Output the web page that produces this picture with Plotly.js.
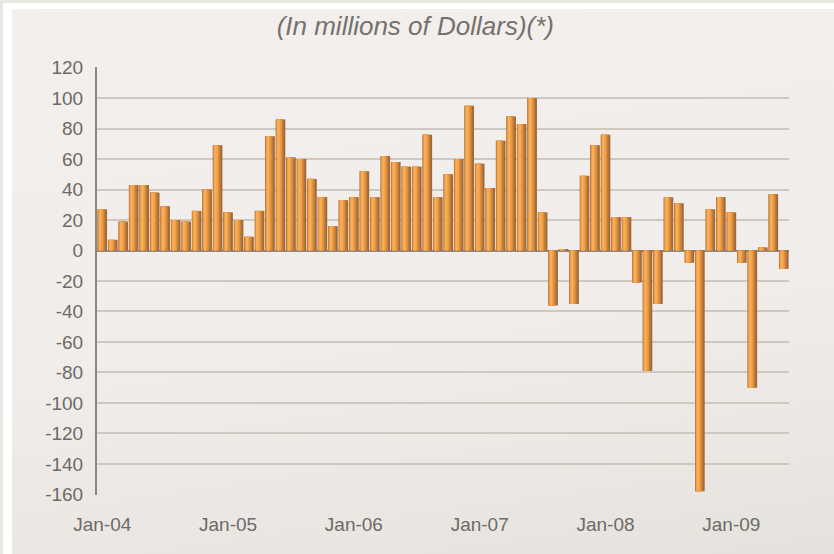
<!DOCTYPE html>
<html>
<head>
<meta charset="utf-8">
<script src="https://cdn.plot.ly/plotly-3.0.1.min.js"></script>
<style>
  html, body { margin:0; padding:0; width:834px; height:554px; overflow:hidden; background:#EAE7E3; }
  #frame { position:absolute; left:3px; top:3px; width:831px; height:551px; background:#FFFFFF; }
  #inner { position:absolute; left:12px; top:9px; width:822px; height:545px;
           background:linear-gradient(172deg, #F2EFEC 0%, #F0EDEA 55%, #EAE7E3 85%, #E5E2DE 100%); }
  #chart { position:absolute; left:0; top:0; width:834px; height:554px; }
</style>
</head>
<body>
<div id="frame"></div>
<div id="inner"></div>
<div id="chart"></div>
<script>
const months = [
  'Jan-04','Feb-04','Mar-04','Apr-04','May-04','Jun-04','Jul-04','Aug-04','Sep-04','Oct-04','Nov-04','Dec-04',
  'Jan-05','Feb-05','Mar-05','Apr-05','May-05','Jun-05','Jul-05','Aug-05','Sep-05','Oct-05','Nov-05','Dec-05',
  'Jan-06','Feb-06','Mar-06','Apr-06','May-06','Jun-06','Jul-06','Aug-06','Sep-06','Oct-06','Nov-06','Dec-06',
  'Jan-07','Feb-07','Mar-07','Apr-07','May-07','Jun-07','Jul-07','Aug-07','Sep-07','Oct-07','Nov-07','Dec-07',
  'Jan-08','Feb-08','Mar-08','Apr-08','May-08','Jun-08','Jul-08','Aug-08','Sep-08','Oct-08','Nov-08','Dec-08',
  'Jan-09','Feb-09','Mar-09','Apr-09','May-09','Jun-09'
];
const values = [
  27, 7, 19, 43, 43, 38, 29, 20, 19, 26, 40, 69,
  25, 20, 9, 26, 75, 86, 61, 60, 47, 35, 16, 33,
  35, 52, 35, 62, 58, 55, 55, 76, 35, 50, 60, 95,
  57, 41, 72, 88, 83, 100, 25, -36, 1, -35, 49, 69,
  76, 22, 22, -21, -79, -35, 35, 31, -8, -158, 27, 35,
  25, -8, -90, 2, 37, -12
];
const xTickLabels = ['Jan-04','Jan-05','Jan-06','Jan-07','Jan-08','Jan-09'];
const yTickValues = [-160,-140,-120,-100,-80,-60,-40,-20,0,20,40,60,80,100,120];
const yTickLabels = ['-160','-140','-120','-100','-80','-60','-40','-20','0','20','40','60','80','100','120'];

// cylinder-like shading made of overlaid layers of the same bars
const layers = [
  {offset:-0.46, width:0.92, color:'#A06937'},
  {offset:-0.43, width:0.72, color:'#C27D3B'},
  {offset:-0.40, width:0.55, color:'#DD9040'},
  {offset:-0.35, width:0.38, color:'#F0A048'},
  {offset:-0.30, width:0.20, color:'#F9AE57'}
];
const traces = layers.map(l => ({
  type:'bar', x: months, y: values,
  offset: l.offset, width: l.width,
  marker: {color: l.color, line: {width: 0}},
  hoverinfo: 'x+y', showlegend: false
}));

const tickFont = {family:'"Liberation Sans", Arial, sans-serif', size:19, color:'#6E6A67'};
const layout = {
  width: 834, height: 554,
  margin: {l:97, r:45, t:67, b:59, pad:0},
  paper_bgcolor: 'rgba(0,0,0,0)',
  plot_bgcolor: 'rgba(0,0,0,0)',
  barmode: 'overlay',
  title: {
    text: '<i>(In millions of Dollars)(*)</i>',
    font: {family:'"Liberation Sans", Arial, sans-serif', size:26, color:'#76716D'},
    x: 0.498, xref: 'container', xanchor: 'center',
    y: 0.953, yref: 'container', yanchor: 'middle'
  },
  xaxis: {
    type: 'category', categoryorder: 'array', categoryarray: months,
    range: [-0.5, 65.5],
    tickmode: 'array', tickvals: xTickLabels, ticktext: xTickLabels,
    showgrid: false, showline: false, zeroline: false,
    ticks: '', tickfont: tickFont, ticklabelstandoff: 16
  },
  yaxis: {
    range: [-160.4, 120.4],
    tickmode: 'array', tickvals: yTickValues, ticktext: yTickLabels,
    showgrid: true, gridcolor: '#CFC8C0', gridwidth: 2,
    zeroline: true, zerolinecolor: '#8E8A86', zerolinewidth: 2,
    showline: true, linecolor: '#8C8782', linewidth: 2,
    ticks: '', tickfont: tickFont, ticklabelstandoff: 8
  }
};
Plotly.newPlot('chart', traces, layout, {displayModeBar:false, staticPlot:true});
</script>
</body>
</html>
